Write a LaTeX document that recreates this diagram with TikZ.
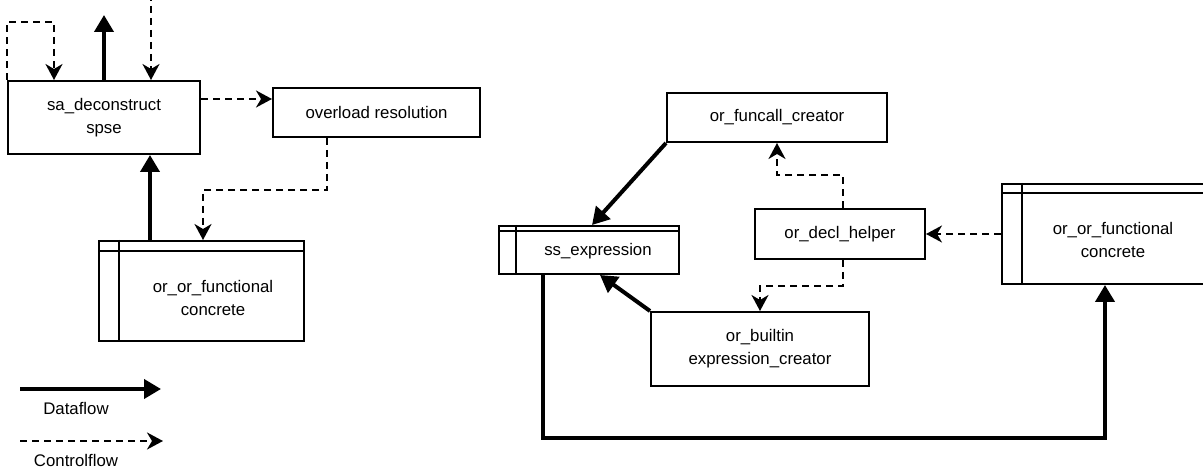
\documentclass[tikz,border=0pt]{standalone}
\usepackage{fontspec}
\setmainfont{Liberation Sans}
\usetikzlibrary{arrows.meta,calc}
\begin{document}
\begin{tikzpicture}[x=1pt,y=-1pt,
  txt/.style={font=\fontsize{16.8}{23}\selectfont},
  box/.style={txt,draw=black,line width=2pt,fill=white,inner sep=0pt,align=center},
  lbl/.style={txt,inner sep=0pt,align=center},
  innerline/.style={line width=2pt},
  data/.style={line width=4pt,-{Triangle[length=17pt,width=19pt]}},
  ctrl/.style={line width=2.2pt,dash pattern=on 7pt off 5pt,-{Stealth[length=16pt,width=17pt,inset=5pt]}}]
\clip (0,0) rectangle (1203,470);
\fill[white] (0,0) rectangle (1203,470);

% left group
\node[box,minimum width=192pt,minimum height=73pt] (sa) at (104,117.5) {sa\_deconstruct\\spse};
\node[box,minimum width=207pt,minimum height=49pt] (ov) at (376.5,112.5) {overload resolution};
\node[box,minimum width=205pt,minimum height=100pt] (lof) at (201.5,291) {};
\draw[innerline] ([yshift=-11pt]lof.north west) -- ([yshift=-11pt]lof.north east);
\draw[innerline] ([xshift=21pt]lof.north west) -- ([xshift=21pt]lof.south west);
\node[lbl] (loft) at (213,298) {or\_or\_functional\\concrete};

% right group
\node[box,minimum width=220pt,minimum height=49pt] (fc) at (777,117.5) {or\_funcall\_creator};
\node[box,minimum width=180pt,minimum height=48pt] (ss) at (589,250) {};
\draw[innerline] ([yshift=-6pt]ss.north west) -- ([yshift=-6pt]ss.north east);
\draw[innerline] ([xshift=18pt]ss.north west) -- ([xshift=18pt]ss.south west);
\node[lbl] (sst) at (598,251) {ss\_expression};
\node[box,minimum width=170pt,minimum height=50pt] (dh) at (840,234) {or\_decl\_helper};
\node[box,minimum width=218pt,minimum height=74pt] (ob) at (760,349) {or\_builtin\\expression\_creator};
\node[box,minimum width=226pt,minimum height=100pt] (rof) at (1115,234) {};
\draw[innerline] ([yshift=-10pt]rof.north west) -- ([yshift=-10pt]rof.north east);
\draw[innerline] ([xshift=21pt]rof.north west) -- ([xshift=21pt]rof.south west);
\node[lbl] (roft) at (1113,240) {or\_or\_functional\\concrete};

% free ends
\coordinate (topin) at (151,-6);
\coordinate (topout) at (104,15);

% left connectors
\draw[ctrl] (sa.north west) -- ++(0,-58) -| ($(sa.north west)+(47,0)$);
\draw[data] (sa.north) -- (topout);
\draw[ctrl] (topin) -- (sa.north -| topin);
\draw[ctrl] ($(sa.north east)+(0,19)$) -- ($(ov.north west)+(0,12)$);
\draw[ctrl] ($(ov.south west)+(55,0)$) -- ++(0,52) -| ($(lof.north)+(1.5,0)$);
\draw[data] ($(lof.north west)+(52,0)$) -- ($(sa.south west)+(143,0)$);

% right connectors
\draw[data] (fc.south west) -- ($(ss.north)+(3,0)$);
\draw[data] (ob.north west) -- ($(ss.south)+(11,0)$);
\draw[data] ($(ss.south west)+(45,0)$) -- ++(0,163) -| ($(rof.south west)+(104,0)$);
\draw[ctrl] ($(dh.north)+(3,0)$) -- ++(0,-33) -| (fc.south);
\draw[ctrl] ($(dh.south)+(3,0)$) -- ++(0,26) -| (ob.north);
\draw[ctrl] (rof.west) -- (dh.east);

% legend
\coordinate (d1) at (20,389);
\coordinate (d2) at (161,389);
\draw[data] (d1) -- (d2);
\node[lbl] (dl) at (76,408) {Dataflow};
\coordinate (c1) at (20,441);
\coordinate (c2) at (163,441);
\draw[ctrl] (c1) -- (c2);
\node[lbl] (cl) at (76,460) {Controlflow};
\end{tikzpicture}
\end{document}
